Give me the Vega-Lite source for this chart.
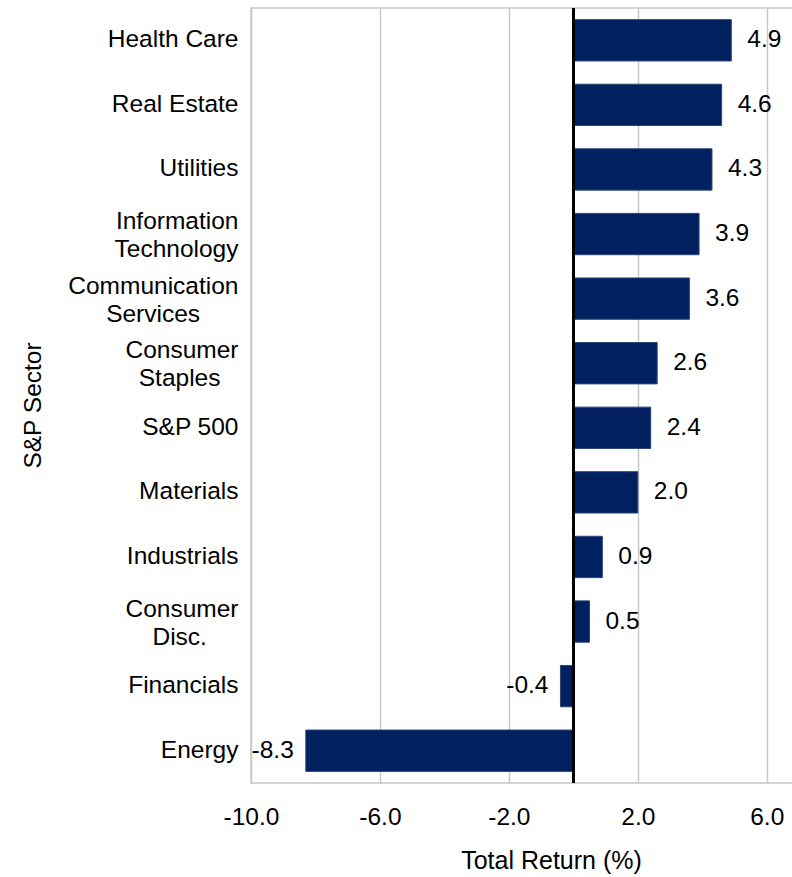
{
  "$schema": "https://vega.github.io/schema/vega-lite/v6.json",
  "autosize": "none",
  "width": 548,
  "height": 775,
  "padding": {"left": 251, "top": 8, "right": 0, "bottom": 94},
  "background": "white",
  "config": {
    "font": "Liberation Sans",
    "view": {"stroke": "#c8c8c8", "strokeWidth": 1.5}
  },
  "data": {
    "values": [
      {"sector": "Health Care", "value": 4.9},
      {"sector": "Real Estate", "value": 4.6},
      {"sector": "Utilities", "value": 4.3},
      {"sector": "Information|Technology", "value": 3.9},
      {"sector": "Communication|Services\u00a0\u00a0\u00a0\u2800", "value": 3.6},
      {"sector": "Consumer|Staples\u2800", "value": 2.6},
      {"sector": "S&P 500", "value": 2.4},
      {"sector": "Materials", "value": 2.0},
      {"sector": "Industrials", "value": 0.9},
      {"sector": "Consumer|Disc.\u00a0\u00a0\u2800", "value": 0.5},
      {"sector": "Financials", "value": -0.4},
      {"sector": "Energy", "value": -8.3}
    ]
  },
  "encoding": {
    "y": {
      "field": "sector",
      "type": "nominal",
      "sort": null,
      "scale": {"paddingInner": 0.36, "paddingOuter": 0.18},
      "axis": {
        "title": "S&P Sector",
        "titleFontSize": 24.5,
        "titleFontWeight": "normal",
        "titleColor": "black",
        "titleAngle": -90,
        "titleX": -218,
        "titleY": 397,
        "titleAlign": "center",
        "titleBaseline": "middle",
        "labelExpr": "split(datum.label, '|')",
        "labelFontSize": 24.5,
        "labelColor": "black",
        "labelLineHeight": 28,
        "labelPadding": 13,
        "labelLimit": 400,
        "labelOffset": {"condition": {"test": "indexof(datum.value, '|') >= 0", "value": -12}, "value": 0},
        "ticks": false,
        "domain": false
      }
    },
    "x": {
      "field": "value",
      "type": "quantitative",
      "scale": {"domain": [-10, 7], "nice": false, "zero": false},
      "axis": {
        "title": "Total Return (%)",
        "titleFontSize": 25,
        "titleFontWeight": "normal",
        "titleColor": "black",
        "titleX": 300,
        "titleY": 77,
        "titleAlign": "center",
        "titleBaseline": "middle",
        "values": [-10, -6, -2, 2, 6],
        "labelExpr": "replace(format(datum.value, '.1f'), '−', '-')",
        "labelFontSize": 24.5,
        "labelColor": "black",
        "labelPadding": 22,
        "labelFlush": false,
        "ticks": false,
        "domain": false,
        "grid": true,
        "gridColor": "#c8c8c8",
        "gridWidth": 1.5
      }
    }
  },
  "layer": [
    {
      "mark": {"type": "bar", "color": "#002060", "stroke": "#2b4577", "strokeWidth": 1}
    },
    {
      "mark": {"type": "rule", "color": "black", "strokeWidth": 2},
      "encoding": {"x": {"datum": 0}, "y": null}
    },
    {
      "transform": [{"filter": "datum.value >= 0"}],
      "mark": {"type": "text", "align": "left", "dx": 16, "fontSize": 24.5, "color": "black"},
      "encoding": {"text": {"value": {"expr": "format(datum.value, '.1f')"}}}
    },
    {
      "transform": [{"filter": "datum.value < 0"}],
      "mark": {"type": "text", "align": "right", "dx": -12, "fontSize": 24.5, "color": "black"},
      "encoding": {"text": {"value": {"expr": "replace(format(datum.value, '.1f'), '−', '-')"}}}
    }
  ]
}
